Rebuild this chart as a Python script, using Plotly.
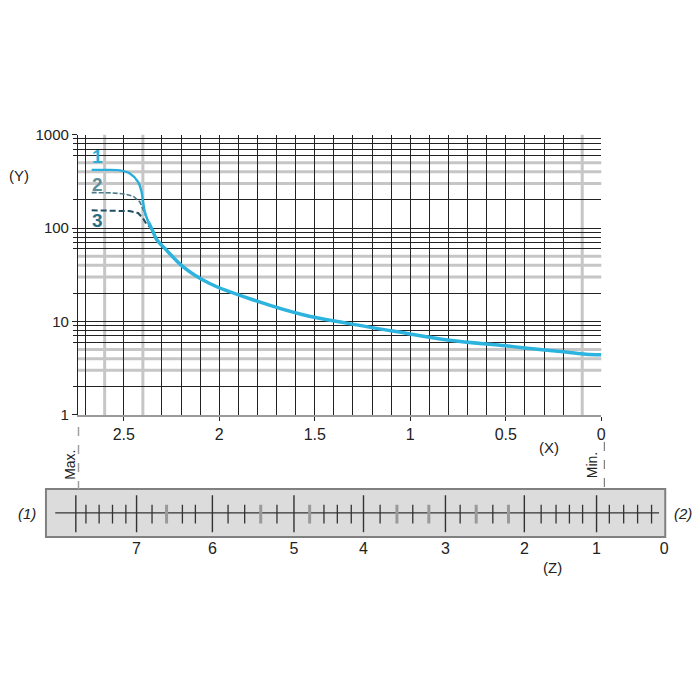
import plotly.graph_objects as go

# curve readings (X, Y)
main_x = [2.372, 2.346, 2.329, 2.276, 2.189, 2.050, 1.806, 1.562, 1.335, 1.091, 0.795, 0.500, 0.360, 0.185, 0.080, 0.0]
main_y = [117, 91, 76, 58, 38.5, 25.5, 16.6, 11.8, 9.6, 7.9, 6.3, 5.5, 5.1, 4.7, 4.45, 4.4]
c1_x = [2.668, 2.60, 2.52, 2.468, 2.425, 2.407, 2.399, 2.390, 2.372]
c1_y = [420, 420, 415, 385, 313, 245, 191, 150, 117]
c2_x = [2.668, 2.56, 2.50, 2.451, 2.416, 2.399, 2.385]
c2_y = [240, 238, 232, 220, 191, 160, 135]
c3_x = [2.668, 2.55, 2.47, 2.425, 2.399, 2.381, 2.355]
c3_y = [155, 154, 152, 145, 127, 110, 100]

x_major = [2.5, 2, 1.5, 1, 0.5, 0]
x_labels = ["2.5", "2", "1.5", "1", "0.5", "0"]
x_grey = [2.6, 2.4, 0.1]
y_major = [1, 10, 100, 1000]
y_labels = ["1", "10", "100", "1000"]
y_black_mant = [2, 6, 7, 8, 9]
y_grey_mant = [3, 4, 5]

# Z ruler, positions given on the X scale
z_labels = ["7", "6", "5", "4", "3", "2", "1", "0"]
z_pos = [2.433, 2.036, 1.609, 1.245, 0.816, 0.403, 0.025, -0.329]
z_extra_major = [2.751]
z_minor = [2.698, 2.629, 2.559, 2.489, 2.352, 2.193, 2.125, 1.954, 1.867, 1.698,
           1.452, 1.382, 1.309, 1.158, 0.987, 0.739, 0.568, 0.315, 0.237, 0.167,
           0.098, -0.042, -0.117, -0.190, -0.263]
z_minor_grey = [2.276, 1.783, 1.527, 1.070, 0.903, 0.655, 0.486]

W = 700
# screen position -> paper fraction (page margin and squeeze seen in the viewer)
def px(s):
    return (s - 8) / 0.994 / W

def py(s):
    return 1 - (s - 16.4) / 0.975 / W

FONT = "Arial, Liberation Sans, sans-serif"
INK = "#222222"

x_range = [2.74, 0]
plot_l, plot_r = 78, 602
ruler_l, ruler_r = 46, 666
unit = (plot_r - plot_l) / (x_range[0] - x_range[1])
r_range = [x_range[0] + (plot_l - ruler_l) / unit, x_range[1] - (ruler_r - plot_r) / unit]

grid_x = [round(i * 0.1, 1) for i in range(28)]
x_minor = [v for v in grid_x if v not in x_major and v not in x_grey]
y_minor = [m * 10 ** d for d in range(3) for m in y_black_mant]

fig = go.Figure()

fig.add_trace(go.Scatter(x=c2_x, y=c2_y, mode="lines", line=dict(color="#4a7a8a", width=1.6, dash="5px,2px"),
                         hoverinfo="skip", showlegend=False))
fig.add_trace(go.Scatter(x=c3_x, y=c3_y, mode="lines", line=dict(color="#1f4f60", width=2, dash="6px,3px"),
                         hoverinfo="skip", showlegend=False))
fig.add_trace(go.Scatter(x=c1_x, y=c1_y, mode="lines", line=dict(color="#28aedc", width=2.4, shape="spline"),
                         hoverinfo="skip", showlegend=False))
fig.add_trace(go.Scatter(x=main_x, y=main_y, mode="lines", line=dict(color="#2db4de", width=3.5, shape="spline"),
                         hoverinfo="skip", showlegend=False))

# ruler ticks
def tick_segments(vals, lo, hi):
    xs, ys = [], []
    for v in vals:
        xs += [v, v, None]
        ys += [lo, hi, None]
    return xs, ys

for vals, lo, hi, col, wd in [(z_pos[:-1] + z_extra_major, 0.1, 0.87, "#333333", 1.4),
                              (z_minor, 0.28, 0.67, "#333333", 1.3),
                              (z_minor_grey, 0.28, 0.67, "#9a9a9a", 3)]:
    xs, ys = tick_segments(vals, lo, hi)
    fig.add_trace(go.Scatter(x=xs, y=ys, xaxis="x2", yaxis="y2", mode="lines",
                             line=dict(color=col, width=wd), hoverinfo="skip", showlegend=False))

shapes = []
for v in x_grey:
    shapes.append(dict(type="line", xref="x", yref="y domain", x0=v, x1=v, y0=0, y1=1,
                       line=dict(color="#c6c6c6", width=3), layer="below"))
for d in range(3):
    for m in y_grey_mant:
        v = m * 10 ** d
        shapes.append(dict(type="line", xref="x domain", yref="y", x0=0, x1=1, y0=v, y1=v,
                           line=dict(color="#c6c6c6", width=3), layer="below"))
shapes.append(dict(type="rect", xref="x2 domain", yref="y2 domain", x0=0, x1=1, y0=0, y1=1,
                   fillcolor="#dcdcdc", line=dict(color="#808080", width=2), layer="below"))
shapes.append(dict(type="line", xref="x2 domain", yref="y2 domain", x0=0.015, x1=0.99, y0=0.5, y1=0.5,
                   line=dict(color="#333333", width=1.2), layer="below"))
shapes.append(dict(type="line", xref="x2", yref="paper", x0=2.737, x1=2.737, y0=py(426), y1=py(488),
                   line=dict(color="#a0a0a0", width=1.5, dash="dash")))
shapes.append(dict(type="line", xref="x2", yref="paper", x0=-0.016, x1=-0.016, y0=py(441), y1=py(488),
                   line=dict(color="#808080", width=1.2, dash="dash")))

def note(text, x, y, size=15, color=INK, **kw):
    return dict(text=text, xref="paper", yref="paper", x=px(x), y=py(y), showarrow=False,
                xanchor="center", yanchor="middle",
                font=dict(family=FONT, size=size, color=color), **kw)

annotations = [
    note("(Y)", 19, 175),
    note("(X)", 550, 447),
    note("(Z)", 553, 566),
    note("<i>(1)</i>", 27, 513),
    note("<i>(2)</i>", 684, 513),
    note("Max.", 70, 464, size=14, textangle=-90),
    note("Min.", 593, 464, size=14, textangle=-90),
    note("<b>1</b>", 98, 156, size=19, color="#2aaed8"),
    note("<b>2</b>", 98, 184, size=19, color="#5d8c9b"),
    note("<b>3</b>", 98, 220, size=19, color="#2b6f86"),
]

fig.update_layout(
    width=700, height=700,
    margin=dict(l=0, r=0, t=0, b=0),
    paper_bgcolor="white", plot_bgcolor="white",
    font=dict(family=FONT, size=15, color=INK),
    showlegend=False,
    xaxis=dict(domain=[px(plot_l), px(plot_r)], range=x_range, anchor="y",
               tickmode="array", tickvals=x_major, ticktext=x_labels,
               ticks="outside", ticklen=4, tickcolor=INK,
               showgrid=True, gridcolor=INK, gridwidth=1,
               minor=dict(tickvals=x_minor, showgrid=True, gridcolor=INK, gridwidth=1, ticks=""),
               showline=True, linecolor="#9a9a9a", linewidth=2, zeroline=False,
               tickfont=dict(size=16, color=INK)),
    yaxis=dict(domain=[py(414), py(134)], type="log", range=[0, 3], anchor="x",
               tickmode="array", tickvals=y_major, ticktext=y_labels,
               ticks="outside", ticklen=5, tickcolor=INK,
               showgrid=True, gridcolor=INK, gridwidth=1,
               minor=dict(tickvals=y_minor, showgrid=True, gridcolor=INK, gridwidth=1,
                          ticks="outside", ticklen=4, tickcolor=INK),
               showline=True, linecolor=INK, linewidth=1, zeroline=False,
               tickfont=dict(size=15, color=INK)),
    xaxis2=dict(domain=[px(ruler_l), px(ruler_r)], range=r_range, anchor="y2",
                tickmode="array", tickvals=z_pos, ticktext=z_labels, ticks="",
                showgrid=False, zeroline=False, showline=False,
                tickfont=dict(size=16, color=INK)),
    yaxis2=dict(domain=[py(536), py(488)], range=[0, 1], anchor="x2", visible=False),
    shapes=shapes,
    annotations=annotations,
)

fig.write_html("out.html")
